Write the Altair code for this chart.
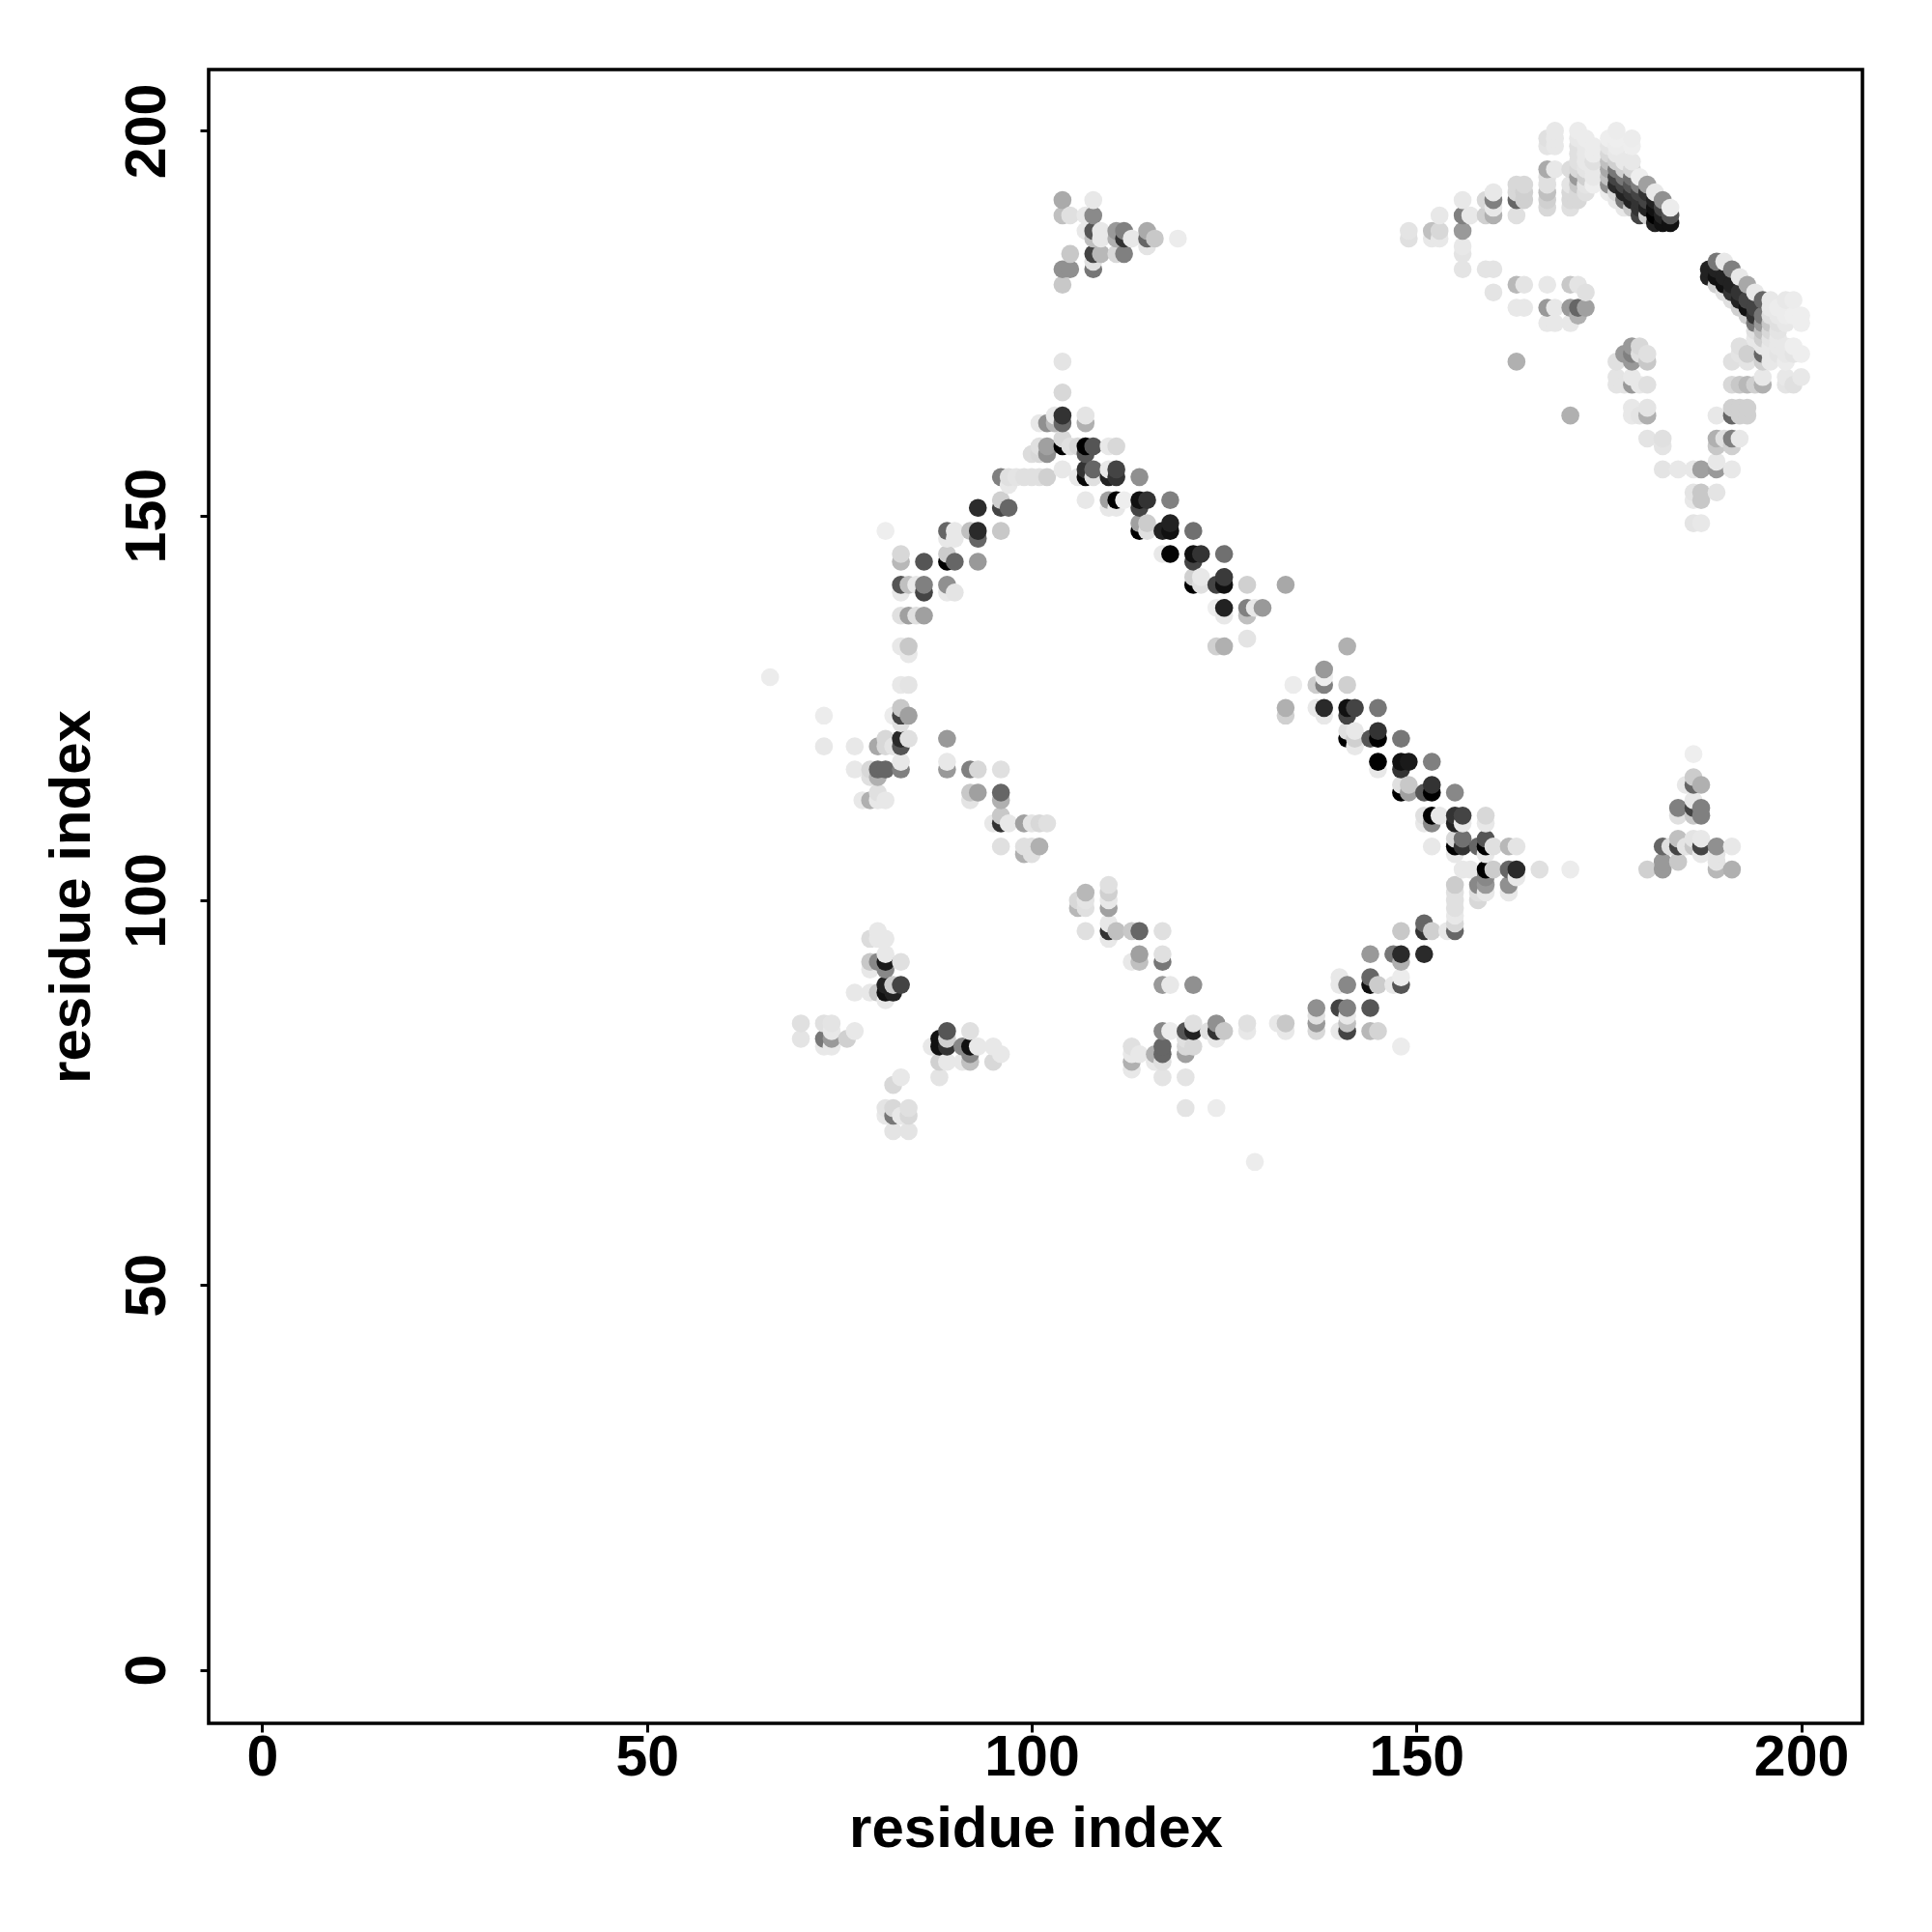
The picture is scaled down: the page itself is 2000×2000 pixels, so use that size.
import altair as alt
import pandas as pd

# Every contact is (residue x, residue y, grey level 0-255)
arc_top = [
(104,170,0xe4),(104,166,0xd8),(103,163,0xe8),(104,163,0x33),(107,163,0xe4),
(101,162,0xe8),(102,162,0x90),(103,162,0xb8),(104,162,0x66),(107,162,0xb0),
(104,160,0xd8),(101,159,0xe0),(102,159,0xa0),(104,159,0x00),(105,159,0xe0),(106,159,0xd8),(107,159,0x00),(108,159,0x55),(110,159,0xe8),(111,159,0xd8),
(100,158,0xdc),(101,158,0xd8),(102,158,0x90),(107,158,0x55),
(104,156,0xe8),(107,156,0x33),(108,156,0x66),(110,156,0xe8),(111,156,0x44),
(96,155,0x80),(97,155,0xe0),(98,155,0xe4),(99,155,0xe0),(100,155,0xe0),(101,155,0xe0),(102,155,0xd0),(106,155,0xe8),(107,155,0x08),(108,155,0xe0),(110,155,0x22),(111,155,0x33),(114,155,0x90),
(97,154,0xe8),(96,152,0xd0),(107,152,0xe8),(110,152,0xa0),(111,152,0x00),(112,152,0xee),(114,152,0x11),(115,152,0x33),(118,152,0x80),
(93,151,0x2c),(96,151,0x44),(97,151,0x66),(110,151,0xe8),(111,151,0xe8),(114,151,0x44),
(114,149,0xa0),(115,149,0xcc),(118,149,0x22),
(81,148,0xee),(89,148,0x66),(90,148,0xe8),(92,148,0xc0),(93,148,0x2a),(96,148,0xc8),(114,148,0x00),(115,148,0xe0),(117,148,0x22),(118,148,0x11),(121,148,0x70),
(89,147,0xe8),(90,147,0xe8),(93,147,0x66),
(83,145,0xd8),(89,145,0xcc),(117,145,0xe8),(118,145,0x05),(121,145,0x11),(122,145,0x33),(125,145,0x70),
(83,144,0xb8),(86,144,0x55),(89,144,0x00),(90,144,0x66),(93,144,0x99),(121,144,0x44),
(121,142,0xd0),(122,142,0xe8),(125,142,0x3a),
(83,141,0x55),(84,141,0xc0),(85,141,0xe8),(86,141,0x80),(89,141,0x90),(121,141,0x00),(122,141,0xe0),(124,141,0x44),(125,141,0x11),(128,141,0xd0),(133,141,0xa8),
(83,140,0xe8),(86,140,0x44),(89,140,0xe8),(90,140,0xe4),
(124,138,0xee),(125,138,0x22),(128,138,0x80),(129,138,0xe8),(130,138,0x99),
(83,137,0xe0),(84,137,0xa0),(85,137,0xe0),(86,137,0xa0),(125,137,0xe8),(128,137,0xc0),
(128,134,0xe4),(83,133,0xe8),(84,133,0xc8),(124,133,0xd0),(125,133,0xb0),(84,132,0xe8),
]
arc_left = [
(66,129,0xec),(83,128,0xe8),(84,128,0xe4),(134,128,0xec),
(83,125,0xc8),(133,125,0xb0),(73,124,0xec),(82,124,0xec),(83,124,0x44),(84,124,0xa0),(133,124,0xd0),(83,123,0xe0),
(81,121,0xd8),(83,121,0x2a),(84,121,0xe0),(89,121,0x99),
(73,120,0xe8),(77,120,0xe8),(80,120,0xa8),(81,120,0xd8),(82,120,0xe4),(83,120,0x55),
(83,118,0xe8),(89,118,0xe8),
(77,117,0xe8),(79,117,0xd8),(80,117,0x66),(81,117,0x66),(83,117,0x80),(89,117,0x99),(92,117,0x80),(93,117,0xd8),(96,117,0xe0),
(79,116,0xe0),(80,116,0xb0),(80,114,0xe0),(92,114,0xc8),(93,114,0xa0),(96,114,0x66),
(78,113,0xe8),(79,113,0xb0),(80,113,0xe8),(81,113,0xe8),(92,113,0xe4),(96,113,0xb0),
(96,111,0xc8),(95,110,0xe8),(96,110,0x33),(97,110,0xe8),(99,110,0xa0),(100,110,0xe4),(101,110,0xd8),(102,110,0xe0),
(96,107,0xe0),(99,107,0xe0),(100,107,0xe0),(101,107,0xb0),(99,106,0xb0),(100,106,0xe0),
(110,102,0xe0),(107,101,0xb8),(110,101,0xd0),(106,100,0xd8),(107,100,0xe4),(110,100,0xe8),(106,99,0xb8),(107,99,0xe0),(110,99,0xa0),
(110,97,0xe8),(107,96,0xe0),(110,96,0x33),(111,96,0xc0),(113,96,0xc8),(114,96,0x66),(117,96,0xe0),(110,95,0xe8),
(114,93,0xa0),(117,93,0xe0),(113,92,0xe8),(114,92,0xc0),(117,92,0x77),
(117,89,0x99),(118,89,0xe8),(121,89,0x90),
]
cluster_low_left = [
(80,96,0xe8),(79,95,0xdc),(80,95,0xe8),(81,95,0xe8),(81,93,0xe8),
(79,92,0xc8),(80,92,0x88),(81,92,0x1a),(83,92,0xe0),(79,91,0xe8),(81,91,0x88),
(81,89,0x22),(82,89,0xcc),(83,89,0x44),
(77,88,0xe8),(79,88,0xe8),(80,88,0xc8),(81,88,0x11),(82,88,0x22),(81,87,0xe8),
(70,84,0xe0),(73,84,0xe0),(74,84,0xe4),(74,83,0xe8),(77,83,0xe8),
(70,82,0xe4),(73,82,0x77),(74,82,0x99),(76,82,0xd0),(73,81,0xe8),(74,81,0xe8),
(89,83,0x55),(92,83,0xe0),(88,82,0x11),(89,82,0xd0),
(87,81,0xe8),(88,81,0x11),(89,81,0x33),(91,81,0x88),(92,81,0x11),(93,81,0xe8),(95,81,0xe8),
(92,80,0x88),(96,80,0xe8),(88,79,0xd0),(89,79,0xe8),(91,79,0xe8),(92,79,0xc0),(95,79,0xd8),
(88,77,0xe4),(83,77,0xe8),(82,76,0xd8),
(81,73,0xe4),(82,73,0xd8),(84,73,0xe0),(81,72,0xe8),(82,72,0x77),(83,72,0xe8),(84,72,0xd8),
(82,70,0xe4),(84,70,0xe4),
]
arc_bottom = [
(121,84,0xe0),(124,84,0x90),(128,84,0xe0),(132,84,0xe8),(133,84,0xc8),(137,84,0x99),(141,84,0xc0),
(137,86,0x90),(140,86,0x44),(141,86,0x80),(144,86,0x55),(137,85,0xe0),(141,85,0xe8),
(117,83,0x88),(118,83,0xec),(120,83,0x55),(121,83,0x22),(123,83,0xe0),(124,83,0x33),(125,83,0xc8),(128,83,0xe8),(133,83,0xe8),(137,83,0xd8),(140,83,0xe8),(141,83,0x44),(144,83,0xb8),(145,83,0xd4),
(120,82,0xe0),(124,82,0xe8),(113,81,0xe0),(117,81,0x66),(120,81,0xd8),(121,81,0xd8),(148,81,0xec),
(113,80,0xe8),(114,80,0xe8),(116,80,0xb0),(117,80,0x66),(120,80,0xa0),
(113,79,0xb0),(116,79,0xe8),(117,79,0xe0),(113,78,0xe8),(117,77,0xe4),(120,77,0xe4),
(120,73,0xe4),(124,73,0xec),(129,66,0xec),
(140,90,0xe8),(144,90,0x66),(148,90,0xec),
(140,89,0xe8),(141,89,0x88),(144,89,0x10),(145,89,0xcc),(147,89,0xe8),(148,89,0x55),
(144,93,0x99),(147,93,0x77),(148,93,0x2a),(151,93,0x2a),(148,92,0xb0),
(148,96,0xc8),(151,96,0x33),(152,96,0xd0),(154,96,0xe8),(155,96,0x66),(151,97,0x66),(155,97,0xd8),
(155,98,0xe8),(155,99,0xe0),(155,100,0xe0),(155,101,0xe0),(155,102,0xcc),
]
ridge = [
(141,133,0xb0),(138,130,0x99),(138,129,0xee),(134,128,0xe8),(137,128,0xcc),(138,128,0x80),(141,128,0xd0),
(133,125,0xb8),(137,125,0xe8),(138,125,0x2a),(141,125,0x11),(142,125,0x44),(145,125,0x77),
(138,124,0xe8),(141,124,0x44),(141,122,0xe0),(142,122,0xe8),(145,122,0x33),
(141,121,0x00),(142,121,0xd0),(144,121,0x55),(145,121,0x00),(148,121,0x77),(142,120,0xe8),
(145,118,0x00),(148,118,0x11),(149,118,0x1a),(152,118,0x80),(145,117,0xe8),(148,117,0x33),
(148,115,0xe0),(149,115,0xc8),(152,115,0x33),
(148,114,0x00),(149,114,0xa0),(151,114,0x55),(152,114,0x00),(155,114,0x88),
(151,111,0xe0),(152,111,0x00),(153,111,0xe8),(155,111,0x33),(156,111,0x44),(159,111,0xd8),
(151,110,0xe8),(152,110,0x88),(155,110,0x22),(156,110,0xe8),(159,110,0xe8),
(155,108,0xd8),(156,108,0x70),(159,108,0x55),
(152,107,0xe8),(155,107,0x00),(156,107,0x33),(158,107,0x66),(159,107,0x00),(160,107,0xe0),(162,107,0xb8),(163,107,0xe4),
(155,106,0xe8),(159,106,0xe8),
(156,104,0xe8),(157,104,0xe8),(159,104,0x00),(160,104,0xcc),(162,104,0x66),(163,104,0x2a),(166,104,0xe0),(170,104,0xec),
(159,103,0x88),(163,103,0xe8),(158,102,0x88),(159,102,0x99),(162,102,0x90),
(158,101,0xe0),(159,101,0xe8),(162,101,0xe8),(158,100,0xd8),
]
triangle = [
(186,119,0xee),(186,116,0xcc),(185,115,0xe8),(186,115,0x66),(187,115,0xb0),
(186,113,0xe8),(184,112,0x80),(186,112,0x44),(187,112,0x80),(184,111,0xe0),(186,111,0xc8),(187,111,0x80),
(184,108,0xc0),(186,108,0xe4),(187,108,0xe8),
(182,107,0x66),(183,107,0xe0),(184,107,0x44),(185,107,0xe4),(186,107,0xc8),(187,107,0x44),(189,107,0x90),(191,107,0xe8),
(187,106,0xe8),(189,106,0xe4),(182,105,0x99),(184,105,0xc8),(189,105,0xe4),
(180,104,0xd0),(182,104,0x99),(189,104,0xb8),(191,104,0xb0),
]
cluster_mid_top = [
(104,191,0xaa),(108,191,0xe8),(104,189,0xc0),(105,189,0xe0),(107,189,0xe8),(108,189,0x8a),
(107,187,0xe8),(108,187,0x55),(109,187,0xe8),(111,187,0x99),(112,187,0x80),(115,187,0xaa),
(108,186,0xc0),(109,186,0xe8),(111,186,0xb0),(112,186,0x33),(113,186,0xe8),(115,186,0x66),(116,186,0xc8),(119,186,0xec),
(115,185,0xe4),(105,184,0xc8),(108,184,0x44),(109,184,0xb8),(111,184,0xd8),(112,184,0x80),
(108,183,0xe0),(104,182,0x90),(105,182,0x90),(108,182,0x77),(104,180,0xc8),
]
arc_upper_right = [
(149,187,0xe4),(149,186,0xe0),(152,187,0xc0),(153,187,0xd8),(152,186,0xe8),(153,186,0xe8),(153,189,0xe8),
(156,191,0xe8),(156,189,0x80),(157,189,0xe8),(156,187,0x99),(156,185,0xe8),(156,184,0xe4),(156,182,0xe4),
(159,191,0xd8),(160,192,0xe8),(160,191,0x80),(159,189,0xd0),(160,189,0xb0),(160,190,0xe8),
(163,193,0xd8),(164,193,0xd8),(163,192,0xd8),(164,192,0xd0),(163,191,0x66),(164,191,0xd0),(163,189,0xe0),
(159,182,0xe4),(160,182,0xe4),(160,179,0xe4),(163,180,0xb8),(164,180,0xe4),(163,177,0xe8),(164,177,0xe8),
(167,180,0xe8),(170,180,0xc8),(171,180,0xe4),(172,179,0xe0),
(167,177,0x99),(168,177,0xe8),(170,177,0x99),(171,177,0x66),(172,177,0xa0),(171,176,0xb0),
(167,175,0xe8),(168,175,0xe8),(170,175,0xe8),
(163,170,0xb0),(170,163,0xb0),
]
hairpin_top = [
(168,200,0xe8),(171,200,0xec),(176,200,0xec),
(167,199,0xe0),(168,199,0xe8),(171,199,0xe8),(172,199,0xec),(175,199,0xee),(176,199,0xee),(178,199,0xec),
(167,198,0xe4),(168,198,0xe8),(171,198,0xe0),(172,198,0xe8),(173,198,0xec),(175,198,0xe4),(176,198,0xec),(178,198,0xee),
(171,197,0xe0),(172,197,0xe8),(173,197,0xec),(175,197,0xd8),(176,197,0xe8),
(171,196,0xe0),(172,196,0xe8),(173,196,0xe0),(175,196,0xc0),(176,196,0xd0),(177,196,0xe8),(178,196,0xe8),
(167,195,0xaa),(168,195,0xe8),(170,195,0xdc),(171,195,0xd8),(172,195,0xe4),(173,195,0xe8),(175,195,0xa8),(176,195,0x77),(177,195,0xd0),(178,195,0xd8),
(167,194,0xe0),(171,194,0x99),(172,194,0xd0),(173,194,0xe8),(175,194,0xc0),(176,194,0x44),(177,194,0x77),(178,194,0x70),(179,194,0xee),
(167,193,0xe0),(170,193,0xe4),(171,193,0xc8),(172,193,0xe4),(173,193,0xee),(175,193,0x90),(176,193,0x2a),(177,193,0x44),(178,193,0x55),(179,193,0x80),(180,193,0xa0),
(167,192,0xc0),(170,192,0xd8),(171,192,0xd8),(172,192,0xe0),(175,192,0xec),(176,192,0xd8),(177,192,0x22),(178,192,0x33),(179,192,0x44),(180,192,0x33),(181,192,0xe8),
(167,191,0xd0),(170,191,0xd8),(171,191,0xd8),(176,191,0xe8),(177,191,0x77),(178,191,0x22),(179,191,0x33),(180,191,0x44),(181,191,0x22),(182,191,0x90),
(167,190,0xd8),(170,190,0xe0),(177,190,0xe8),(178,190,0xc8),(179,190,0x33),(180,190,0x22),(181,190,0x11),(182,190,0x44),(183,190,0xec),
(179,189,0x44),(180,189,0xd0),(181,189,0x00),(182,189,0x22),(183,189,0x55),
(181,188,0x22),(182,188,0x11),(183,188,0x11),
]
hairpin_right = [
(188,182,0x22),(188,181,0x22),(189,183,0x77),(189,182,0x22),(189,181,0x11),(189,180,0xd0),
(190,183,0xe8),(190,181,0x22),(190,180,0x11),(190,179,0xe0),
(191,182,0x80),(191,180,0x22),(191,179,0x33),(191,178,0xe0),
(192,181,0xe8),(192,179,0x33),(192,178,0x22),(192,177,0xd0),
(193,180,0xa8),(193,178,0x44),(193,177,0x11),(193,176,0xd0),
(194,179,0xe8),(194,177,0x44),(194,176,0x33),(194,175,0x77),(194,174,0xe0),
(195,178,0x66),(195,176,0x77),(195,175,0x99),(195,174,0xc0),(195,173,0xd0),
(196,178,0xe8),(196,177,0xe8),(196,176,0xe0),(196,175,0xc8),(196,174,0xd8),(196,173,0xe4),(196,172,0xe8),(196,171,0xe8),(196,170,0xe8),
(197,177,0xec),(197,176,0xe8),(197,175,0xe0),(197,174,0xe4),(197,173,0xe8),(197,172,0xe8),(197,171,0xe4),
(198,178,0xe8),(198,177,0xec),(198,176,0xec),(198,175,0xe8),(198,172,0xe8),(198,171,0xe8),(198,170,0xec),
(199,178,0xec),(199,176,0xee),(199,172,0xee),(199,171,0xe4),(200,176,0xee),(200,175,0xee),(200,171,0xee),
(192,172,0xe0),(194,173,0xe8),(195,172,0xe8),(192,171,0xe4),(193,171,0xd0),(195,171,0x66),(191,170,0xe0),(193,170,0xe4),(195,170,0xd0),
(191,167,0xd8),(192,167,0xc8),(193,167,0xb8),(194,167,0xd0),(195,168,0xe8),(195,167,0xb0),(198,168,0xe8),(198,167,0xe4),(199,167,0xe0),(200,168,0xe8),
(191,164,0xd0),(192,164,0xd0),(193,164,0xd0),(189,163,0xe8),(191,163,0x66),(192,163,0xd0),(193,163,0xd0),
(189,160,0xb0),(190,160,0xe0),(191,160,0x80),(192,160,0xe8),(189,159,0xc8),(191,159,0xd0),
(182,156,0xe4),(184,156,0xe8),(186,156,0xe8),(187,156,0xa0),(189,157,0xe8),(189,156,0x99),(191,156,0xe8),
(180,160,0xe4),(182,160,0xe0),(182,159,0xe4),
(186,153,0xe4),(187,153,0xc8),(189,153,0xe4),(186,152,0xe8),(187,152,0xc8),(186,149,0xe4),(187,149,0xe8),
(178,172,0x99),(179,172,0xd8),(177,171,0x99),(178,171,0x80),(179,171,0xe0),(180,171,0xe0),
(176,170,0xe0),(178,170,0x99),(180,170,0xc8),(176,168,0xe4),(178,168,0xe8),
(176,167,0xe4),(177,167,0xe4),(178,167,0x99),(179,167,0xe8),(180,167,0xe0),
(178,164,0xe8),(180,164,0xe4),(178,163,0xe8),(179,163,0xe4),(180,163,0xb0),
]

tick_values = [0, 50, 100, 150, 200]
axis_title = "residue index"
domain = [-6.96, 207.96]

rows = (arc_top + arc_left + cluster_low_left + arc_bottom + ridge + triangle
        + cluster_mid_top + arc_upper_right + hairpin_top + hairpin_right)
df = pd.DataFrame(rows, columns=["x", "y", "level"]).drop_duplicates(["x", "y"])
df = df.sort_values(["x", "y"]).reset_index(drop=True)
df["shade"] = [f"#{v:02x}{v:02x}{v:02x}" for v in df["level"]]

font = "Liberation Sans"
common = dict(values=tick_values, title=axis_title, grid=False, domain=False,
              tickColor="black", tickWidth=3, tickSize=9,
              labelFont=font, labelFontWeight="bold", labelFontSize=59, labelColor="black",
              titleFont=font, titleFontWeight="bold", titleFontSize=60, titleColor="black")

chart = alt.Chart(df).mark_circle(size=346, opacity=1).encode(
    x=alt.X("x:Q", scale=alt.Scale(domain=domain, nice=False, zero=False),
            axis=alt.Axis(labelPadding=-3, titlePadding=15, labelFlush=False, labelOverlap=False, **common)),
    y=alt.Y("y:Q", scale=alt.Scale(domain=domain, nice=False, zero=False),
            axis=alt.Axis(labelAngle=270, labelAlign="center", labelBaseline="alphabetic",
                          labelPadding=37, titlePadding=18, labelFlush=False, labelOverlap=False, **common)),
    color=alt.Color("shade:N", scale=None, legend=None),
).properties(
    width=1712, height=1712,
    autosize=alt.AutoSizeParams(type="none"),
    padding={"left": 208, "top": 64, "right": 60, "bottom": 200},
    background="white",
).configure_view(stroke="black", strokeWidth=3.6)

chart.save("out.html", embed_options={"renderer": "svg", "actions": False})
